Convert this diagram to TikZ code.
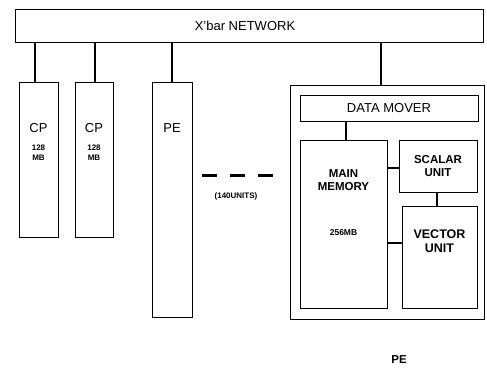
\documentclass[tikz,border=0pt]{standalone}
\usepackage{fontspec}
\setmainfont{Liberation Sans}
\begin{document}
\begin{tikzpicture}[x=1pt,y=-1pt,
  box/.style={draw,line width=1.3pt},
  conn/.style={line width=1.2pt},
  big/.style={font=\fontsize{13}{14}\selectfont},
  mid/.style={font=\fontsize{11.5}{13}\selectfont\bfseries, align=center},
  small/.style={font=\fontsize{8}{10}\selectfont\bfseries, align=center}]
\useasboundingbox (0,0) rectangle (487,372);
% network bar
\node[box, minimum width=468pt, minimum height=33pt, anchor=north west, inner sep=0pt] (net) at (15,9) {};
\node[big] (nettxt) at (245,26) {X'bar NETWORK};
% CP boxes
\node[box, minimum width=39pt, minimum height=155pt, anchor=north west, inner sep=0pt] (cp1) at (19,82) {};
\node[box, minimum width=38pt, minimum height=155pt, anchor=north west, inner sep=0pt] (cp2) at (75,82) {};
\node[box, minimum width=40pt, minimum height=235pt, anchor=north west, inner sep=0pt] (pe) at (152,82) {};
\node[big] (cp1t) at (38.5,128) {CP};
\node[big] (cp2t) at (94,128) {CP};
\node[big] (pet) at (172,128) {PE};
\node[small] (cp1m) at (38.5,153) {128\\MB};
\node[small] (cp2m) at (94,153) {128\\MB};
% outer PE
\node[box, minimum width=194pt, minimum height=234pt, anchor=north west, inner sep=0pt] (outer) at (290,85) {};
\node[box, minimum width=178pt, minimum height=26pt, anchor=north west, inner sep=0pt] (dm) at (300,95) {};
\node[big] (dmt) at (389,108) {DATA MOVER};
\node[box, minimum width=87pt, minimum height=168pt, anchor=north west, inner sep=0pt] (mem) at (300,140) {};
\node[mid] (memt) at (343.5,180) {MAIN\\MEMORY};
\node[small, font=\fontsize{8.5}{10}\selectfont\bfseries] (memmb) at (343.5,233) {256MB};
\node[box, minimum width=78pt, minimum height=52pt, anchor=north west, inner sep=0pt] (sc) at (399,140) {};
\node[mid] (sct) at (438,166) {SCALAR\\UNIT};
\node[box, minimum width=75pt, minimum height=102pt, anchor=north west, inner sep=0pt] (vu) at (402,206) {};
\node[mid, font=\fontsize{12.5}{14}\selectfont\bfseries] (vut) at (439.5,241) {VECTOR\\UNIT};
% connectors
\coordinate (b1) at (35,42); \coordinate (b2) at (95,42); \coordinate (b3) at (172,42); \coordinate (b4) at (381,42);
\draw[conn] (b1) -- (b1 |- cp1.north);
\draw[conn] (b2) -- (b2 |- cp2.north);
\draw[conn] (b3) -- (b3 |- pe.north);
\draw[conn] (b4) -- (b4 |- outer.north);
\coordinate (dmb) at (346,121);
\draw[conn] (dmb) -- (dmb |- mem.north);
\coordinate (ms) at (387,168);
\draw[conn] (ms) -- (ms -| sc.west);
\coordinate (mv) at (387,243);
\draw[conn] (mv) -- (mv -| vu.west);
\coordinate (sv) at (437,192);
\draw[conn] (sv) -- (sv |- vu.north);
% dashes
\coordinate (d1) at (202,175); \coordinate (d2) at (273,175);
\draw[line width=3pt, dash pattern=on 15pt off 13pt] (d1) -- (d2);
\node[small] (units) at (236,196) {(140UNITS)};
\node[mid] (pelab) at (399,360) {PE};
\end{tikzpicture}
\end{document}
